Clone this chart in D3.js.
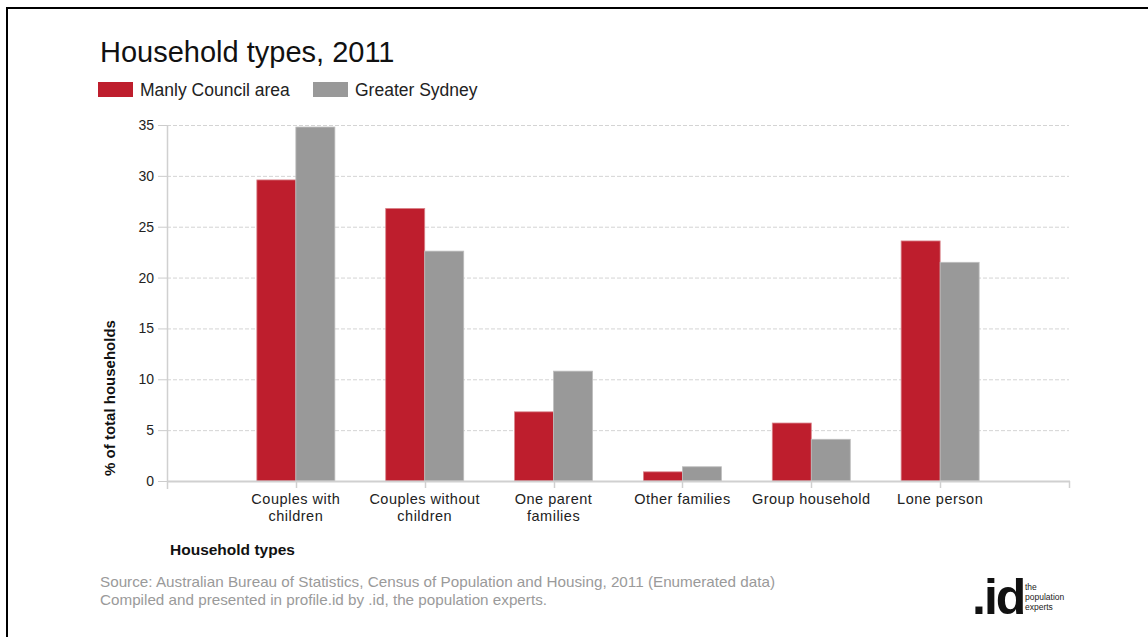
<!DOCTYPE html>
<html>
<head>
<meta charset="utf-8">
<script src="https://cdn.jsdelivr.net/npm/d3@7"></script>
<style>
  body { margin: 0; background: #fff; }
  svg { display: block; font-family: "Liberation Sans", Arial, sans-serif; }
</style>
</head>
<body>
<div id="wrapper"></div>
<script>
const categories = ["Couples with children", "Couples without children", "One parent families",
  "Other families", "Group household", "Lone person"]
const tickLabels = [["Couples with", "children"], ["Couples without", "children"], ["One parent", "families"],
  ["Other families"], ["Group household"], ["Lone person"]]
const manly = [29.6, 26.8, 6.8, 0.9, 5.7, 23.6]
const sydney = [34.8, 22.6, 10.8, 1.4, 4.1, 21.5]
const seriesNames = ["Manly Council area", "Greater Sydney"]
const seriesColors = ["#be1e2d", "#999999"]
const yTicks = [0, 5, 10, 15, 20, 25, 30, 35]

function drawBars() {
  const dms = { width: 1148, height: 637 }

  const svg = d3.select("#wrapper").append("svg")
    .attr("width", dms.width)
    .attr("height", dms.height)

  // frame lines (top and left only)
  svg.append("line").attr("x1", 6).attr("x2", 1148).attr("y1", 8).attr("y2", 8)
    .attr("stroke", "#000").attr("stroke-width", 2)
  svg.append("line").attr("x1", 7).attr("x2", 7).attr("y1", 7).attr("y2", 637)
    .attr("stroke", "#000").attr("stroke-width", 2)

  svg.append("text")
    .attr("x", 100).attr("y", 62)
    .style("font-size", "29px")
    .attr("fill", "#111")
    .text("Household types, 2011")

  // legend
  const legend = svg.append("g")
  const legX = [98, 313]
  seriesNames.forEach((name, i) => {
    legend.append("rect")
      .attr("x", legX[i]).attr("y", 82).attr("width", 35).attr("height", 15)
      .attr("fill", seriesColors[i])
    legend.append("text")
      .attr("x", legX[i] + 42).attr("y", 96)
      .style("font-size", "17.5px").attr("fill", "#222")
      .text(name)
  })

  const xScale = d3.scalePoint()
    .domain(["_start", ...categories, "_end"])
    .range([167, 1069])

  const yScale = d3.scaleLinear()
    .domain([0, 35])
    .range([481, 125])

  // grid
  svg.append("g").selectAll("line")
    .data(yTicks.filter(d => d > 0))
    .join("line")
    .attr("x1", 167).attr("x2", 1069)
    .attr("y1", d => yScale(d) + 0.5).attr("y2", d => yScale(d) + 0.5)
    .attr("stroke", "#d4d4d4")
    .attr("stroke-dasharray", "4,2")

  // y axis
  const yAxis = svg.append("g")
    .attr("transform", "translate(167,0)")
    .call(d3.axisLeft(yScale).tickValues(yTicks).tickSize(9).tickPadding(4))
  yAxis.select(".domain").remove()
  yAxis.selectAll(".tick line").attr("stroke", "#cccccc")
  yAxis.selectAll(".tick text")
    .style("font-size", "14px").style("font-family", "Liberation Sans, Arial, sans-serif")
    .attr("fill", "#222")
  svg.append("line")
    .attr("x1", 167.5).attr("x2", 167.5).attr("y1", 125).attr("y2", 489)
    .attr("stroke", "#d0d0d0").attr("stroke-width", 1.5)

  // bars
  const barW = 39
  const groups = categories.map((c, i) => ({ c, vals: [manly[i], sydney[i]] }))
  svg.append("g").selectAll("g")
    .data(groups)
    .join("g")
    .selectAll("rect")
    .data(d => d.vals.map((v, j) => ({ c: d.c, v, j })))
    .join("rect")
    .attr("x", d => xScale(d.c) - barW + d.j * barW)
    .attr("y", d => yScale(d.v))
    .attr("width", barW)
    .attr("height", d => yScale(0) - yScale(d.v))
    .attr("fill", d => seriesColors[d.j])
    .attr("stroke", d => d.j === 0 ? "#d9848b" : "#bdbdbd")
    .attr("stroke-width", 0.8)

  // x axis baseline and ticks
  svg.append("line")
    .attr("x1", 167).attr("x2", 1070).attr("y1", 481.5).attr("y2", 481.5)
    .attr("stroke", "#d0d0d0").attr("stroke-width", 2)
  svg.append("g").selectAll("line")
    .data([...categories, "_end"])
    .join("line")
    .attr("x1", d => Math.round(xScale(d)) + 0.5).attr("x2", d => Math.round(xScale(d)) + 0.5)
    .attr("y1", 481).attr("y2", 488)
    .attr("stroke", "#d0d0d0").attr("stroke-width", 1.5)

  const xl = svg.append("g").selectAll("text")
    .data(categories)
    .join("text")
    .attr("x", d => xScale(d))
    .attr("y", 504)
    .attr("text-anchor", "middle")
    .style("font-size", "14.5px")
    .style("letter-spacing", "0.5px")
    .attr("fill", "#222")
  xl.selectAll("tspan")
    .data((d, i) => tickLabels[i])
    .join("tspan")
    .attr("x", function () { return d3.select(this.parentNode).attr("x") })
    .attr("dy", (d, i) => i === 0 ? 0 : 17)
    .text(d => d)

  // axis titles
  svg.append("text")
    .attr("transform", "translate(115,398) rotate(-90)")
    .attr("text-anchor", "middle")
    .style("font-size", "15px").style("font-weight", "bold")
    .attr("fill", "#111")
    .text("% of total households")

  svg.append("text")
    .attr("x", 170).attr("y", 555)
    .style("font-size", "15.5px").style("font-weight", "bold")
    .attr("fill", "#111")
    .text("Household types")

  // footer
  svg.append("text")
    .attr("x", 100).attr("y", 587)
    .style("font-size", "14.5px").attr("fill", "#9a9a9a")
    .attr("textLength", 675).attr("lengthAdjust", "spacingAndGlyphs")
    .text("Source: Australian Bureau of Statistics, Census of Population and Housing, 2011 (Enumerated data)")
  svg.append("text")
    .attr("x", 100).attr("y", 605)
    .style("font-size", "14.5px").attr("fill", "#9a9a9a")
    .attr("textLength", 447).attr("lengthAdjust", "spacingAndGlyphs")
    .text("Compiled and presented in profile.id by .id, the population experts.")

  // logo
  svg.append("text")
    .attr("x", 972).attr("y", 614)
    .style("font-size", "50px").style("font-weight", "bold")
    .style("letter-spacing", "-2px")
    .attr("fill", "#111")
    .text(".id")
  const logoLines = ["the", "population", "experts"]
  svg.append("g").selectAll("text")
    .data(logoLines)
    .join("text")
    .attr("x", 1025)
    .attr("y", (d, i) => 590 + i * 10)
    .style("font-size", "8.5px")
    .attr("fill", "#222")
    .text(d => d)
}

drawBars()
</script>
</body>
</html>
